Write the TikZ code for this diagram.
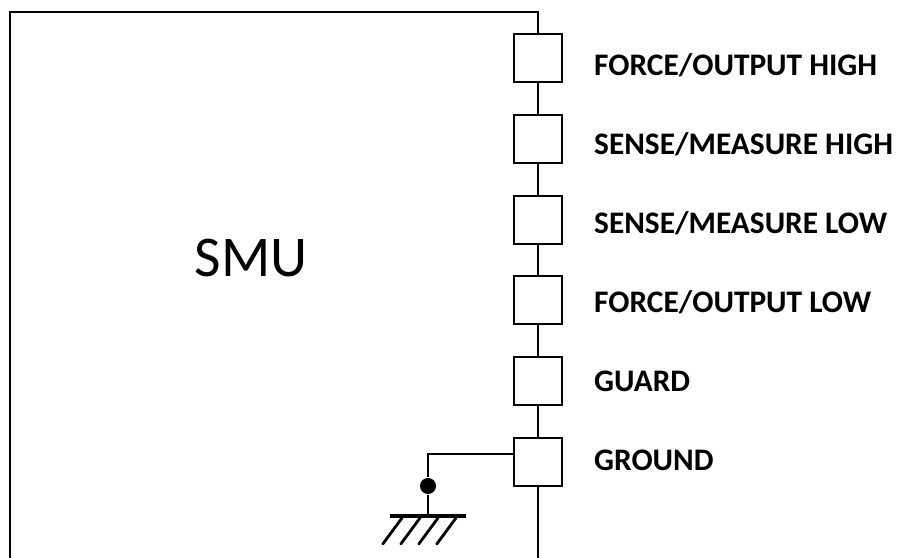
\documentclass[tikz,border=0pt]{standalone}
\usepackage{fontspec}
\setmainfont{Carlito}
\usepackage{tikz}
\usetikzlibrary{positioning}

\begin{document}
\begin{tikzpicture}[
  line width=0.05cm,
  port/.style={draw,minimum width=1.2cm,minimum height=1.2cm,inner sep=0pt,fill=white},
  lbl/.style={anchor=west,inner sep=0pt,font=\fontsize{22.3}{26}\selectfont\bfseries},
  dot/.style={circle,fill=black,draw=none,minimum size=0.4cm,inner sep=0pt}
]
  \useasboundingbox (0,0) rectangle (22.45,13.95);
  % frame corners
  \coordinate (fl) at (0.24,0);
  \coordinate (ft) at (0.24,13.66);
  \coordinate (fr) at (13.45,13.66);
  \coordinate (fe) at (13.45,0);
  \node (smu) at (6.28,7.5) {\fontsize{41}{48}\selectfont SMU};
  \node[port] (p1) at (13.45,12.50) {};
  \node[port] (p2) at (13.45,10.48) {};
  \node[port] (p3) at (13.45,8.46) {};
  \node[port] (p4) at (13.45,6.44) {};
  \node[port] (p5) at (13.45,4.42) {};
  \node[port] (p6) at (13.45,2.40) {};
  \node[lbl] (l1) at (14.83,12.33) {FORCE/OUTPUT HIGH};
  \node[lbl] (l2) at (14.83,10.35) {SENSE/MEASURE HIGH};
  \node[lbl] (l3) at (14.83,8.37) {SENSE/MEASURE LOW};
  \node[lbl] (l4) at (14.83,6.39) {FORCE/OUTPUT LOW};
  \node[lbl] (l5) at (14.83,4.42) {GUARD};
  \node[lbl] (l6) at (14.83,2.45) {GROUND};
  \draw (fl) -- (ft) -- (fr) -- (p1);
  \draw (p1) -- (p2);
  \draw (p2) -- (p3);
  \draw (p3) -- (p4);
  \draw (p4) -- (p5);
  \draw (p5) -- (p6);
  \draw (p6) -- (fe);
  % ground
  \coordinate (gj) at (10.7,2.59);
  \coordinate (gb) at (10.7,1.05);
  \node[dot] (gd) at (10.7,1.8) {};
  \draw (gj -| p6.west) -- (gj) -- (gd) -- (gb);
  \draw[line width=0.08cm] (9.75,1.05) -- (gb) -- (11.65,1.05);
  \foreach \x in {0,1,2,3}
    \draw[line cap=round,line width=0.07cm] (10.05+\x*0.45,1.0) -- (9.57+\x*0.45,0.35);
\end{tikzpicture}
\end{document}
